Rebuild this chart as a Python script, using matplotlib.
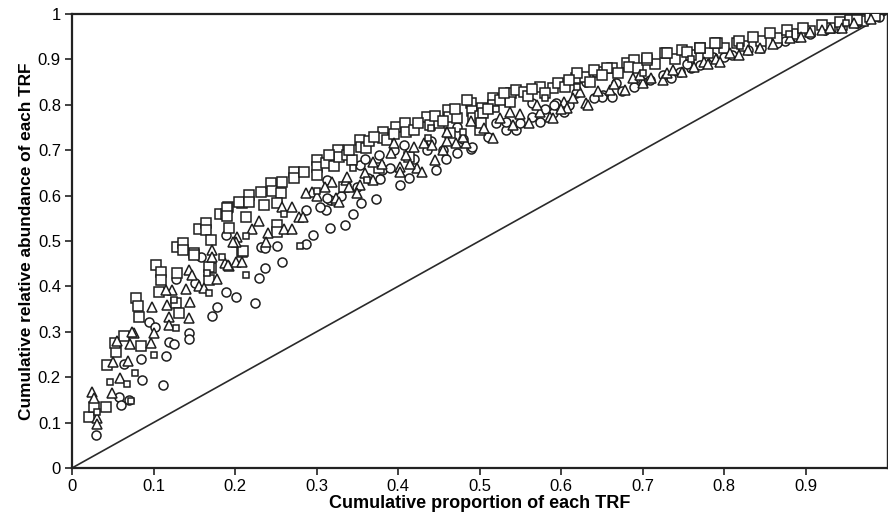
import numpy as np
import matplotlib
matplotlib.use('Agg')
import matplotlib.pyplot as plt

# big squares
sq_x = [0.021, 0.027, 0.042, 0.043, 0.054, 0.053, 0.064, 0.085, 0.079, 0.081, 0.082, 0.103,
        0.109, 0.109, 0.107, 0.129, 0.129, 0.136, 0.136, 0.150, 0.156, 0.165, 0.165, 0.171,
        0.181, 0.189, 0.192, 0.193, 0.209, 0.214, 0.208, 0.170, 0.168, 0.128, 0.131,
        0.190, 0.190, 0.205, 0.217, 0.217, 0.232, 0.236, 0.244, 0.246, 0.257, 0.258, 0.273,
        0.273, 0.285, 0.300, 0.300, 0.300, 0.312, 0.322, 0.326, 0.327, 0.337, 0.344, 0.252,
        0.252, 0.252, 0.150, 0.168, 0.210,
        0.353, 0.355, 0.361, 0.381, 0.381, 0.387, 0.397, 0.408, 0.410, 0.420, 0.435, 0.439,
        0.450, 0.461, 0.463, 0.464, 0.472, 0.490, 0.491, 0.492, 0.503, 0.414, 0.377, 0.334,
        0.315, 0.340, 0.365, 0.370, 0.395, 0.425, 0.445, 0.455,
        0.500, 0.500, 0.504, 0.502, 0.516, 0.516, 0.539, 0.545, 0.555, 0.574, 0.590, 0.596,
        0.619, 0.629, 0.645, 0.663, 0.681, 0.690, 0.537, 0.620, 0.641, 0.657, 0.684,
        0.470, 0.485, 0.510, 0.525, 0.530, 0.560, 0.565, 0.580, 0.605, 0.610, 0.635, 0.650,
        0.670, 0.695, 0.715, 0.740, 0.760, 0.780, 0.800, 0.825, 0.845, 0.865, 0.885, 0.905,
        0.930, 0.945, 0.970,
        0.706, 0.727, 0.749, 0.754, 0.770, 0.791, 0.816, 0.835, 0.856, 0.877, 0.897, 0.920,
        0.942, 0.955, 0.963, 0.979, 0.730, 0.705, 0.770, 0.789, 0.818, 0.985]
sq_y = [0.112, 0.134, 0.134, 0.227, 0.256, 0.275, 0.290, 0.269, 0.374, 0.357, 0.333, 0.447,
        0.432, 0.414, 0.388, 0.430, 0.487, 0.496, 0.480, 0.473, 0.526, 0.540, 0.524, 0.502,
        0.559, 0.559, 0.575, 0.529, 0.476, 0.553, 0.584, 0.441, 0.414, 0.363, 0.341,
        0.573, 0.555, 0.586, 0.601, 0.586, 0.608, 0.579, 0.628, 0.610, 0.606, 0.630, 0.652,
        0.639, 0.652, 0.678, 0.663, 0.645, 0.672, 0.665, 0.700, 0.685, 0.689, 0.678, 0.584,
        0.535, 0.520, 0.469, 0.443, 0.478,
        0.722, 0.707, 0.705, 0.740, 0.727, 0.722, 0.751, 0.760, 0.740, 0.745, 0.773, 0.756,
        0.760, 0.789, 0.773, 0.738, 0.771, 0.804, 0.787, 0.771, 0.793, 0.685, 0.661, 0.619,
        0.690, 0.700, 0.720, 0.730, 0.735, 0.760, 0.775, 0.765,
        0.775, 0.745, 0.782, 0.760, 0.815, 0.800, 0.826, 0.833, 0.828, 0.839, 0.837, 0.848,
        0.859, 0.861, 0.872, 0.881, 0.892, 0.899, 0.806, 0.870, 0.877, 0.881, 0.883,
        0.790, 0.810, 0.790, 0.810, 0.825, 0.820, 0.835, 0.825, 0.840, 0.855, 0.850, 0.865,
        0.870, 0.880, 0.890, 0.900, 0.910, 0.915, 0.925, 0.930, 0.940, 0.948, 0.955, 0.962,
        0.970, 0.975, 0.985,
        0.899, 0.914, 0.921, 0.916, 0.925, 0.936, 0.936, 0.949, 0.958, 0.965, 0.969, 0.976,
        0.982, 0.987, 0.987, 0.993, 0.914, 0.903, 0.925, 0.936, 0.940, 0.995]

# triangles
tri_x = [0.025, 0.027, 0.031, 0.031, 0.049, 0.059, 0.050, 0.069, 0.055, 0.071, 0.097, 0.076,
         0.100, 0.074, 0.098, 0.117, 0.119, 0.119, 0.123, 0.115, 0.140, 0.144, 0.147, 0.145,
         0.144, 0.156, 0.162, 0.172, 0.172, 0.178, 0.188, 0.193, 0.201, 0.208, 0.203, 0.201,
         0.230, 0.221, 0.240, 0.197, 0.192, 0.260, 0.270, 0.258, 0.270, 0.279, 0.283, 0.295,
         0.287, 0.319, 0.324, 0.336, 0.238,
         0.392, 0.369, 0.402, 0.402, 0.423, 0.430, 0.420, 0.432, 0.442, 0.445, 0.369, 0.353,
         0.350, 0.337, 0.324, 0.328, 0.471, 0.484, 0.490, 0.395,
         0.340, 0.360, 0.380, 0.410, 0.415, 0.455, 0.460, 0.300, 0.310,
         0.516, 0.541, 0.561, 0.586, 0.604, 0.631, 0.623, 0.660, 0.678, 0.574, 0.537, 0.633,
         0.607, 0.590, 0.725,
         0.460, 0.480, 0.505, 0.525, 0.550, 0.570, 0.600, 0.615, 0.645, 0.665, 0.710, 0.730,
         0.775, 0.790, 0.830, 0.860, 0.895, 0.920, 0.945,
         0.700, 0.688, 0.737, 0.748, 0.795, 0.807, 0.819, 0.844, 0.881, 0.905, 0.930, 0.960,
         0.980, 0.763, 0.780, 0.697]
tri_y = [0.167, 0.154, 0.110, 0.097, 0.165, 0.198, 0.233, 0.236, 0.280, 0.273, 0.275, 0.297,
         0.297, 0.300, 0.355, 0.359, 0.333, 0.315, 0.392, 0.392, 0.394, 0.436, 0.425, 0.366,
         0.330, 0.401, 0.396, 0.480, 0.465, 0.416, 0.452, 0.445, 0.454, 0.454, 0.509, 0.498,
         0.544, 0.526, 0.518, 0.498, 0.447, 0.526, 0.526, 0.575, 0.575, 0.553, 0.553, 0.608,
         0.605, 0.630, 0.590, 0.634, 0.498,
         0.694, 0.674, 0.663, 0.652, 0.661, 0.652, 0.707, 0.716, 0.711, 0.678, 0.634, 0.623,
         0.606, 0.641, 0.595, 0.586, 0.716, 0.716, 0.764, 0.716,
         0.620, 0.650, 0.670, 0.690, 0.670, 0.700, 0.720, 0.600, 0.620,
         0.727, 0.756, 0.760, 0.773, 0.806, 0.804, 0.828, 0.833, 0.833, 0.784, 0.784, 0.800,
         0.793, 0.770, 0.855,
         0.740, 0.730, 0.750, 0.770, 0.780, 0.800, 0.790, 0.815, 0.830, 0.845, 0.860, 0.870,
         0.895, 0.900, 0.920, 0.935, 0.950, 0.965, 0.970,
         0.848, 0.859, 0.877, 0.872, 0.894, 0.914, 0.909, 0.925, 0.947, 0.960, 0.969, 0.980,
         0.990, 0.884, 0.890, 0.866]

# circles
cir_x = [0.029, 0.058, 0.060, 0.070, 0.086, 0.112, 0.064, 0.085, 0.119, 0.125, 0.115, 0.095,
         0.102, 0.143, 0.143, 0.172, 0.178, 0.189, 0.201, 0.189, 0.158, 0.127, 0.224,
         0.230, 0.237, 0.258, 0.287, 0.296, 0.316, 0.335, 0.345, 0.355, 0.373, 0.402, 0.414,
         0.447, 0.459, 0.473, 0.490,
         0.232, 0.237, 0.252, 0.252, 0.312, 0.316, 0.287, 0.151,
         0.313, 0.313, 0.353, 0.377, 0.380, 0.472, 0.407, 0.363, 0.378, 0.304,
         0.330, 0.350, 0.390, 0.420, 0.435, 0.440, 0.395, 0.360,
         0.491, 0.533, 0.545, 0.565, 0.574, 0.590, 0.604, 0.500, 0.565, 0.594, 0.619, 0.631,
         0.651, 0.668, 0.690, 0.533, 0.592, 0.650, 0.662,
         0.455, 0.480, 0.510, 0.520, 0.550, 0.580, 0.610, 0.640, 0.675, 0.700, 0.735, 0.760,
         0.810, 0.845, 0.875, 0.905, 0.940,
         0.709, 0.725, 0.746, 0.770, 0.786, 0.829, 0.865, 0.889, 0.924, 0.963, 0.990, 0.755,
         0.800]
cir_y = [0.073, 0.156, 0.139, 0.150, 0.194, 0.183, 0.229, 0.240, 0.278, 0.273, 0.247, 0.322,
         0.310, 0.297, 0.285, 0.335, 0.355, 0.388, 0.377, 0.513, 0.465, 0.416, 0.363,
         0.418, 0.440, 0.454, 0.493, 0.513, 0.529, 0.535, 0.559, 0.584, 0.593, 0.623, 0.639,
         0.656, 0.681, 0.694, 0.703,
         0.487, 0.484, 0.489, 0.586, 0.568, 0.590, 0.568, 0.407,
         0.595, 0.634, 0.667, 0.689, 0.656, 0.751, 0.711, 0.639, 0.636, 0.575,
         0.600, 0.620, 0.660, 0.680, 0.700, 0.720, 0.700, 0.680,
         0.707, 0.744, 0.744, 0.773, 0.762, 0.782, 0.784, 0.751, 0.804, 0.804, 0.826, 0.850,
         0.822, 0.848, 0.839, 0.762, 0.800, 0.817, 0.817,
         0.700, 0.725, 0.730, 0.760, 0.760, 0.790, 0.800, 0.815, 0.830, 0.850, 0.860, 0.880,
         0.910, 0.925, 0.940, 0.955, 0.970,
         0.855, 0.866, 0.872, 0.888, 0.905, 0.921, 0.936, 0.949, 0.965, 0.980, 0.993, 0.890,
         0.905]

# small squares
ssq_x = [0.031, 0.068, 0.077, 0.072, 0.047, 0.100, 0.127, 0.125, 0.168, 0.184, 0.214, 0.214,
         0.166, 0.260, 0.280, 0.300, 0.345, 0.362, 0.437, 0.440, 0.480, 0.520, 0.580, 0.620,
         0.700, 0.760, 0.820, 0.880, 0.950]
ssq_y = [0.123, 0.185, 0.209, 0.147, 0.190, 0.250, 0.308, 0.370, 0.385, 0.465, 0.425, 0.511,
         0.430, 0.560, 0.490, 0.610, 0.660, 0.634, 0.727, 0.750, 0.740, 0.790, 0.816, 0.840,
         0.870, 0.900, 0.930, 0.955, 0.980]

x_ticks = [0, 0.1, 0.2, 0.3, 0.4, 0.5, 0.6, 0.7, 0.8, 0.9]
x_labels = ['0', '0.1', '0.2', '0.3', '0.4', '0.5', '0.6', '0.7', '0.8', '0.9']
y_ticks = [0, 0.1, 0.2, 0.3, 0.4, 0.5, 0.6, 0.7, 0.8, 0.9, 1.0]
y_labels = ['0', '0.1', '0.2', '0.3', '0.4', '0.5', '0.6', '0.7', '0.8', '0.9', '1']

plt.rcParams['font.family'] = ['Liberation Sans', 'DejaVu Sans']

fig = plt.figure(figsize=(8.88, 5.26), dpi=100)
ax = fig.add_axes([72 / 888, 58 / 526, 815 / 888, 454 / 526])

ec = '#1e1e1e'
ax.plot([0, 1], [0, 1], color='#2a2a2a', lw=1.2, zorder=1)
ax.plot(sq_x, sq_y, 's', ms=7, mfc='white', mec=ec, mew=1.1, ls='none', zorder=3)
ax.plot(tri_x, tri_y, '^', ms=7.5, mfc='white', mec=ec, mew=1.1, ls='none', zorder=4)
ax.plot(cir_x, cir_y, 'o', ms=6.5, mfc='white', mec=ec, mew=1.1, ls='none', zorder=2)
ax.plot(ssq_x, ssq_y, 's', ms=4.5, mfc='white', mec=ec, mew=1.1, ls='none', zorder=5)

ax.set_xlim(0, 1)
ax.set_ylim(0, 1)
ax.set_xticks(x_ticks)
ax.set_xticklabels(x_labels, fontsize=12)
ax.set_yticks(y_ticks)
ax.set_yticklabels(y_labels, fontsize=12)
ax.tick_params(direction='out', length=5, width=1.2, color='#222222', pad=3)

for s in ax.spines.values():
    s.set_linewidth(1.6)
    s.set_color('#222222')
ax.spines['right'].set_linewidth(1.0)

ax.set_xlabel('Cumulative proportion of each TRF', fontsize=13, fontweight='bold',
              labelpad=1)
ax.set_ylabel('Cumulative relative abundance of each TRF', fontsize=12.4,
              fontweight='bold', labelpad=3)

fig.savefig('out.png', dpi=100)
